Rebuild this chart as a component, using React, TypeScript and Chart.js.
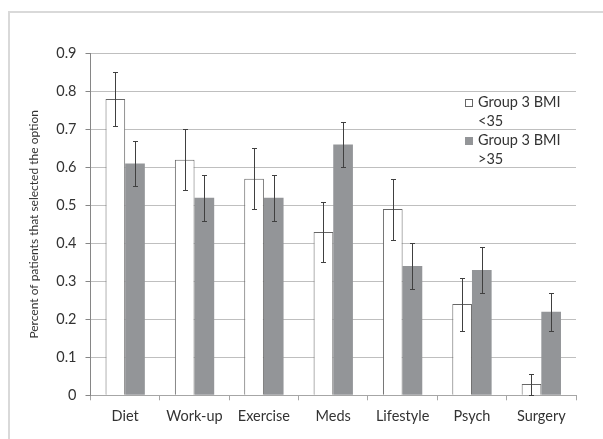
import { useEffect, useRef } from 'react';
import { Chart, registerables } from 'chart.js';

Chart.register(...registerables);

const categories = ['Diet', 'Work-up', 'Exercise', 'Meds', 'Lifestyle', 'Psych', 'Surgery'];

const seriesNames = ['Group 3 BMI <35', 'Group 3 BMI >35'];
const legendLines = [
  ['Group 3 BMI', '<35'],
  ['Group 3 BMI', '>35'],
];

const bmiUnder35 = [0.78, 0.62, 0.57, 0.43, 0.49, 0.24, 0.03];
const bmiUnder35Low = [0.71, 0.54, 0.49, 0.35, 0.41, 0.17, 0.0];
const bmiUnder35High = [0.85, 0.7, 0.65, 0.51, 0.57, 0.31, 0.055];

const bmiOver35 = [0.61, 0.52, 0.52, 0.66, 0.34, 0.33, 0.22];
const bmiOver35Low = [0.55, 0.46, 0.46, 0.6, 0.28, 0.27, 0.17];
const bmiOver35High = [0.67, 0.58, 0.58, 0.72, 0.4, 0.39, 0.27];

const yTicks = [0, 0.1, 0.2, 0.3, 0.4, 0.5, 0.6, 0.7, 0.8, 0.9];
const yTitle = 'Percent of patients that selected the option';

const FONT = 'Lato, "Open Sans", sans-serif';
const TEXT = '#333333';
const GREY_BAR = '#939598';
const OUTLINE = '#666666';

const errorLows = [bmiUnder35Low, bmiOver35Low];
const errorHighs = [bmiUnder35High, bmiOver35High];

// White background and the light outer frame
const framePlugin = {
  id: 'frame',
  beforeDraw(chart: any) {
    const { ctx, width, height } = chart;
    ctx.save();
    ctx.fillStyle = '#ffffff';
    ctx.fillRect(0, 0, width, height);
    ctx.strokeStyle = '#d9d9d9';
    ctx.lineWidth = 2;
    ctx.beginPath();
    ctx.moveTo(9, height + 2);
    ctx.lineTo(9, 12);
    ctx.lineTo(width + 2, 12);
    ctx.stroke();
    ctx.restore();
  },
};

// Whiskers for the confidence range of each bar
const errorBarPlugin = {
  id: 'errorBars',
  afterDatasetsDraw(chart: any) {
    const { ctx } = chart;
    const yScale = chart.scales.y;
    ctx.save();
    ctx.strokeStyle = '#404040';
    ctx.lineWidth = 1;
    chart.data.datasets.forEach((_: any, i: number) => {
      const meta = chart.getDatasetMeta(i);
      meta.data.forEach((bar: any, j: number) => {
        const x = Math.round(bar.x) + 0.5;
        const yHi = Math.round(yScale.getPixelForValue(errorHighs[i][j])) + 0.5;
        const yLo = Math.round(yScale.getPixelForValue(errorLows[i][j])) + 0.5;
        const cap = 2.5;
        ctx.beginPath();
        ctx.moveTo(x, yHi);
        ctx.lineTo(x, yLo);
        ctx.moveTo(x - cap, yHi);
        ctx.lineTo(x + cap, yHi);
        ctx.moveTo(x - cap, yLo);
        ctx.lineTo(x + cap, yLo);
        ctx.stroke();
      });
    });
    ctx.restore();
  },
};

// Legend with wrapped labels, placed inside the plot area at the upper right
const insideLegendPlugin = {
  id: 'insideLegend',
  afterDraw(chart: any) {
    const { ctx, chartArea } = chart;
    const boxX = chartArea.right - 110.5;
    const textX = chartArea.right - 98;
    const lineH = 19;
    let y = chartArea.top + 49.5;
    ctx.save();
    ctx.font = `14.5px ${FONT}`;
    ctx.textBaseline = 'middle';
    ctx.textAlign = 'left';
    chart.data.datasets.forEach((ds: any, i: number) => {
      const size = 7;
      const top = Math.round(y - size / 2) + 0.5;
      if (i === 0) {
        ctx.fillStyle = '#ffffff';
        ctx.fillRect(boxX, top, size, size);
        ctx.strokeStyle = OUTLINE;
        ctx.lineWidth = 1;
        ctx.strokeRect(boxX, top, size, size);
      } else {
        ctx.fillStyle = ds.backgroundColor;
        ctx.fillRect(boxX - 0.5, top - 0.5, size + 1, size + 1);
      }
      ctx.fillStyle = TEXT;
      legendLines[i].forEach((line: string, k: number) => {
        ctx.fillText(line, textX, y + k * lineH);
      });
      y += lineH * legendLines[i].length;
    });
    ctx.restore();
  },
};

export default function App() {
  const canvasRef = useRef<HTMLCanvasElement | null>(null);

  useEffect(() => {
    const canvas = canvasRef.current;
    if (!canvas) return;
    const chart = new Chart(canvas, {
      type: 'bar',
      data: {
        labels: categories,
        datasets: [
          {
            label: seriesNames[0],
            data: bmiUnder35,
            backgroundColor: '#ffffff',
            borderColor: OUTLINE,
            borderWidth: 1,
          },
          {
            label: seriesNames[1],
            data: bmiOver35,
            backgroundColor: GREY_BAR,
            borderWidth: 0,
          },
        ],
      },
      options: {
        responsive: false,
        animation: false,
        devicePixelRatio: 1,
        layout: { padding: { left: 20, top: 53.3, right: 27, bottom: 0 } },
        datasets: {
          bar: { categoryPercentage: 0.567, barPercentage: 1.0 },
        },
        plugins: {
          legend: { display: false },
          tooltip: { enabled: false },
        },
        scales: {
          x: {
            offset: true,
            grid: {
              display: true,
              drawOnChartArea: false,
              offset: true,
              tickLength: 5,
              tickColor: '#a6a6a6',
            },
            border: { color: '#a6a6a6', width: 1 },
            ticks: {
              font: { family: FONT, size: 14.5 },
              color: TEXT,
              padding: 7,
              maxRotation: 0,
            },
            afterFit(scale: any) {
              scale.height = 43.7;
            },
          },
          y: {
            min: 0,
            max: 0.9,
            afterBuildTicks(scale: any) {
              scale.ticks = yTicks.map((v) => ({ value: v }));
            },
            grid: {
              color: '#bfbfbf',
              tickLength: 5,
              tickColor: '#868686',
            },
            border: { color: '#868686', width: 1 },
            ticks: {
              font: { family: FONT, size: 14.5 },
              color: TEXT,
              padding: 9,
              callback: (v: any) => (Number(v) === 0 ? '0' : Number(v).toFixed(1)),
            },
            title: {
              display: true,
              text: yTitle,
              font: { family: FONT, size: 12 },
              color: TEXT,
              padding: { top: 7, bottom: 0 },
            },
            afterFit(scale: any) {
              scale.width = 70.5;
            },
          },
        },
      },
      plugins: [framePlugin, errorBarPlugin, insideLegendPlugin],
    });
    return () => chart.destroy();
  }, []);

  return (
    <div style={{ position: 'absolute', left: 0, top: 0, width: 603, height: 439 }}>
      <canvas ref={canvasRef} width={603} height={439} style={{ display: 'block' }} />
    </div>
  );
}
